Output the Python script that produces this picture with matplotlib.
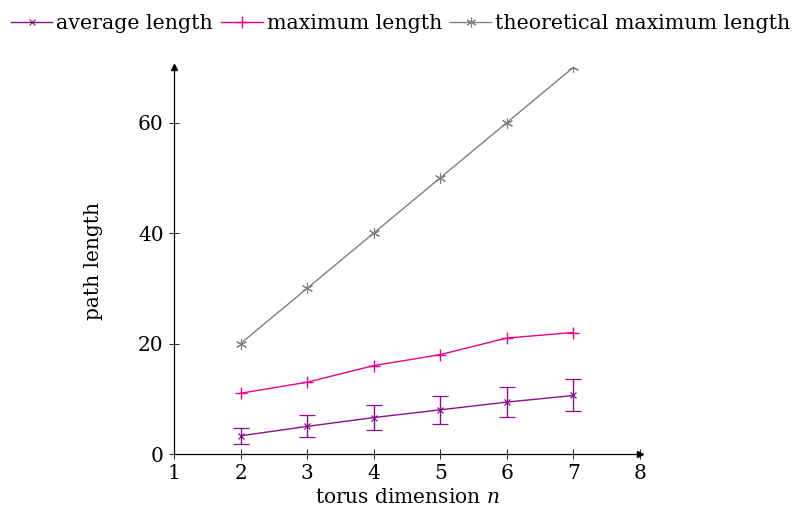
import numpy as np
import matplotlib
matplotlib.use("Agg")
import matplotlib.pyplot as plt
from matplotlib.lines import Line2D

n = [2, 3, 4, 5, 6, 7]
avg_len = [3.3, 5.0, 6.6, 8.0, 9.4, 10.6]
avg_err = [1.5, 2.0, 2.3, 2.5, 2.7, 2.9]
max_len = [11, 13, 16, 18, 21, 22]
theo_max = [20, 30, 40, 50, 60, 70]

x_ticks = [1, 2, 3, 4, 5, 6, 7, 8]
y_ticks = [0, 20, 40, 60]
labels = ['average length', 'maximum length', 'theoretical maximum length']

purple = "#8a0f8a"
magenta = "#ec008c"
gray = "#808080"

plt.rcParams['font.family'] = ['DejaVu Serif']
plt.rcParams['mathtext.fontset'] = 'dejavuserif'

fig = plt.figure(figsize=(8.02, 5.19), dpi=100)
ax = fig.add_axes([0.217, 0.1252, 0.581, 0.745])

ax.errorbar(n, avg_len, yerr=avg_err, color=purple, marker='x', ms=5, mew=0.9,
            lw=1, elinewidth=1, capsize=6, capthick=1)
ax.plot(n, max_len, color=magenta, marker='+', ms=9, mew=1, lw=1)
ax.plot(n, theo_max, color=gray, marker=(6, 2, 0), ms=8, mew=0.8, lw=1)

ax.set_xlim(1, 8)
ax.set_ylim(0, 70)
ax.set_xticks(x_ticks)
ax.set_yticks(y_ticks)
ax.tick_params(direction='inout', length=7, width=0.6, labelsize=14.5, pad=4)

for side in ['top', 'right']:
    ax.spines[side].set_visible(False)
for side in ['left', 'bottom']:
    ax.spines[side].set_linewidth(0.9)
ax.plot(1, 0, ">k", ms=5, transform=ax.get_yaxis_transform(), clip_on=False)
ax.plot(1, 1, "^k", ms=5, transform=ax.get_xaxis_transform(), clip_on=False)

ax.set_xlabel('torus dimension $n$', fontsize=14.5, labelpad=3)
ax.set_ylabel('path length', fontsize=14.5, labelpad=25)

handles = [
    Line2D([], [], color=purple, marker='x', ms=5, mew=0.8, lw=1),
    Line2D([], [], color=magenta, marker='+', ms=8, mew=1, lw=1),
    Line2D([], [], color=gray, marker=(6, 2, 0), ms=7, mew=0.8, lw=1),
]
fig.legend(handles, labels, loc='upper center', bbox_to_anchor=(0.5, 1.0),
           ncol=3, frameon=False, fontsize=14.8, handlelength=2.0,
           handletextpad=0.2, columnspacing=0.4, borderaxespad=0.3)

fig.savefig("out.png", dpi=100)
